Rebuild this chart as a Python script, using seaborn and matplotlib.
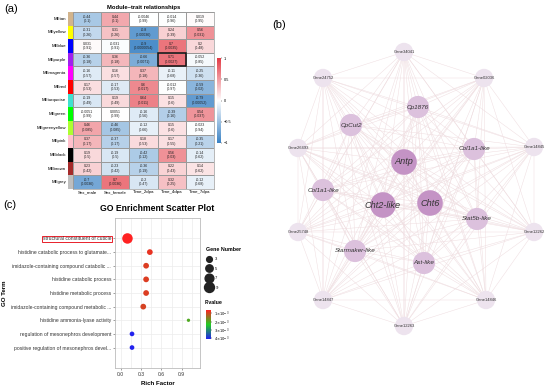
import itertools
import matplotlib.pyplot as plt
import matplotlib.colors as mcolors
import matplotlib.patches as patches
from matplotlib.lines import Line2D
import numpy as np
import pandas as pd
import seaborn as sns

#%% data
modules = ['MEtan', 'MEyellow', 'MEblue', 'MEpurple', 'MEmagenta', 'MEred', 'MEturquoise',
           'MEgreen', 'MEgreenyellow', 'MEpink', 'MEblack', 'MEbrown', 'MEgrey']
module_colors = ['#d2b48c', '#ffff00', '#0000ff', '#a020f0', '#ff00ff', '#ff0000', '#40e0d0',
                 '#00ff00', '#adff2f', '#ffc0cb', '#000000', '#a52a2a', '#bebebe']
traits = ['Sex_male', 'Sex_female', 'Time_2dpa', 'Time_4dpa', 'Time_7dpa']
cor = [[-0.44, 0.44, -0.0046, -0.014, 0.019],
       [-0.31, 0.31, -0.8, 0.24, 0.56],
       [0.031, -0.031, -0.9, 0.7, 0.2],
       [-0.36, 0.36, -0.66, 0.71, -0.052],
       [-0.16, 0.16, 0.37, -0.11, -0.25],
       [0.17, -0.17, 0.6, -0.012, -0.59],
       [-0.19, 0.19, 0.64, 0.15, -0.79],
       [-0.0051, 0.0051, -0.16, -0.39, 0.54],
       [0.46, -0.46, -0.12, 0.15, -0.023],
       [0.37, -0.37, 0.18, 0.17, -0.35],
       [0.19, -0.19, -0.42, 0.56, -0.14],
       [0.23, -0.23, -0.36, 0.22, 0.14],
       [-0.7, 0.7, -0.2, 0.32, -0.12]]
pval = [['0.1', '0.1', '0.99', '0.96', '0.95'],
        ['0.26', '0.26', '0.00036', '0.39', '0.031'],
        ['0.91', '0.91', '0.0000054', '0.0035', '0.48'],
        ['0.18', '0.18', '0.0071', '0.0027', '0.85'],
        ['0.57', '0.57', '0.18', '0.68', '0.36'],
        ['0.53', '0.53', '0.017', '0.97', '0.02'],
        ['0.49', '0.49', '0.011', '0.6', '0.00052'],
        ['0.99', '0.99', '0.56', '0.16', '0.037'],
        ['0.085', '0.085', '0.66', '0.6', '0.94'],
        ['0.17', '0.17', '0.53', '0.55', '0.21'],
        ['0.5', '0.5', '0.12', '0.03', '0.62'],
        ['0.42', '0.42', '0.19', '0.43', '0.62'],
        ['0.0036', '0.0036', '0.47', '0.25', '0.68']]

genes = ['Gene34041', 'Gene24752', 'Gene02036', 'Cp1876', 'CpCut2', 'Col1a1-like', 'Gene14845',
         'Antp', 'Gene26493', 'Col1a1-like', 'Cht2-like', 'Cht6', 'Stat5b-like', 'Gene12262',
         'Gene25748', 'Starmaker-like', 'Ast-like', 'Gene14847', 'Gene14846', 'Gene12263']
gene_x = [404, 323, 484, 418, 351, 474, 534, 404, 298, 323, 383, 430, 477, 534, 298, 355, 424, 323, 486, 404]
gene_y = [52, 78, 78, 107, 125, 149, 147, 162, 148, 190, 205, 203, 219, 232, 232, 251, 263, 300, 300, 326]
gene_level = [0, 0, 0, 1, 1, 1, 0, 2, 0, 1, 2, 2, 1, 0, 0, 1, 1, 0, 0, 0]

go_terms = ['structural constituent of cuticle', 'histidine catabolic process to glutamate...',
            'imidazole-containing compound catabolic ...', 'histidine catabolic process',
            'histidine metabolic process', 'imidazole-containing compound metabolic ...',
            'histidine ammonia-lyase activity', 'regulation of mesonephros development',
            'positive regulation of mesonephros devel...']
rich_factor = [0.10, 0.43, 0.375, 0.375, 0.375, 0.333, 1.0, 0.167, 0.167]
gene_number = [10, 3, 3, 3, 3, 3, 1, 2, 2]
go_pvalue = [0.62e-3, 0.8e-3, 0.9e-3, 0.9e-3, 0.9e-3, 0.95e-3, 2.0e-3, 4.1e-3, 4.1e-3]

#%% figure
W, H = 550, 386
fig = plt.figure(figsize=(W / 100, H / 100), dpi=100)
plt.rcParams['font.family'] = ['Liberation Sans', 'DejaVu Sans']

def rect(l, t, r, b):
    return [l / W, 1 - b / H, (r - l) / W, (b - t) / H]

fig.text(4 / W, 1 - 9 / H, '(a)', fontsize=8, va='center')
fig.text(272 / W, 1 - 25 / H, '(b)', fontsize=8, va='center')
fig.text(3 / W, 1 - 205 / H, '(c)', fontsize=8, va='center')

# (a) heatmap
wgcna_cmap = mcolors.LinearSegmentedColormap.from_list('bwr', ['#3a82c4', '#ffffff', '#e23a45'])
cor_df = pd.DataFrame(cor, index=modules, columns=traits)
annot = np.array([['{}\n({})'.format(c, p) for c, p in zip(cr, pr)] for cr, pr in zip(cor, pval)])
ax_h = fig.add_axes(rect(73, 12, 214, 189))
ax_cb = fig.add_axes(rect(217, 58, 221, 143))
sns.heatmap(cor_df, ax=ax_h, cmap=wgcna_cmap, vmin=-1, vmax=1, annot=annot, fmt='',
            annot_kws={'fontsize': 2.6, 'color': '#222222'}, linewidths=0.5, linecolor='#9a9a9a',
            cbar_ax=ax_cb)
ax_h.set_yticks([])
ax_h.set_ylabel('')
ax_h.set_xticklabels(traits, rotation=0, fontsize=3.2)
ax_h.tick_params(axis='x', length=0, pad=1)
ax_h.set_title('Module\u2013trait relationships', fontsize=4.2, fontweight='bold', pad=2)
ax_h.add_patch(patches.Rectangle((3, 3), 1, 1, fill=False, edgecolor='#111111', lw=1.1))
for s in ax_h.spines.values():
    s.set_visible(True)
    s.set_color('#9a9a9a')
    s.set_linewidth(0.5)
ax_cb.set_yticks([-1, -0.5, 0, 0.5, 1])
ax_cb.set_yticklabels(['\u22121', '\u22120.5', '0', '0.5', '1'])
ax_cb.tick_params(labelsize=2.8, length=1, width=0.3, pad=1)

ax_s = fig.add_axes(rect(67.5, 12, 72.5, 189))
sns.heatmap(np.arange(len(modules)).reshape(-1, 1), ax=ax_s,
            cmap=mcolors.ListedColormap(module_colors), cbar=False)
ax_s.set_xticks([])
ax_s.set_yticks(np.arange(len(modules)) + 0.5)
ax_s.set_yticklabels(modules, fontsize=3.2, rotation=0)
ax_s.tick_params(axis='y', length=0, pad=1)

# (b) network
ax_n = fig.add_axes(rect(270, 30, 550, 350))
ax_n.set_xlim(270, 550)
ax_n.set_ylim(350, 30)
ax_n.axis('off')
for i, j in itertools.combinations(range(len(genes)), 2):
    ax_n.plot([gene_x[i], gene_x[j]], [gene_y[i], gene_y[j]], color='#efdde0', lw=0.35, zorder=1)
node_color = ['#ede3ee', '#dcc1dd', '#c493c5']
node_size = [175, 255, 340]
node_font = [3.0, 4.6, 6.6]
for x, y, g, lv in zip(gene_x, gene_y, genes, gene_level):
    ax_n.scatter(x, y, s=node_size[lv], color=node_color[lv], edgecolors='none', zorder=2)
    style = 'normal' if g.startswith('Gene') else 'italic'
    ax_n.text(x, y, g, fontsize=node_font[lv], style=style, ha='center', va='center',
              color='#333333', zorder=3)

# (c) GO scatter
go_df = pd.DataFrame({'term': go_terms, 'rich': rich_factor, 'count': gene_number, 'p': go_pvalue})
go_cmap = mcolors.LinearSegmentedColormap.from_list('rgb', ['#ff2222', '#22cc22', '#2222ee'])
go_norm = mcolors.Normalize(vmin=min(go_pvalue), vmax=max(go_pvalue))
ax_g = fig.add_axes(rect(115, 218, 200, 368))
sns.scatterplot(data=go_df, x='rich', y='term', size='count', sizes=(5.7, 57), size_norm=(1, 10),
                hue='p', palette=go_cmap, hue_norm=go_norm, edgecolor='none', legend=False,
                ax=ax_g, zorder=3)
ax_g.set_xlim(-0.084, 1.17)
ax_g.set_ylim(9.5, -1.5)
ax_g.set_xticks([0.0, 0.3, 0.6, 0.9])
ax_g.set_xticklabels(['0.0', '0.3', '0.6', '0.9'])
ax_g.set_xticks([0.15, 0.45, 0.75, 1.05], minor=True)
ax_g.grid(True, which='both', color='#ececec', lw=0.5, zorder=0)
ax_g.tick_params(which='both', length=1.2, width=0.4, color='#555555', labelsize=3.6,
                 labelcolor='#333333', pad=1.5)
ax_g.tick_params(which='minor', length=0)
for s in ax_g.spines.values():
    s.set_color('#bbbbbb')
    s.set_linewidth(0.6)
ax_g.set_xlabel('Rich Factor', fontsize=4.4, fontweight='bold', labelpad=3)
ax_g.set_ylabel('GO Term', fontsize=4.4, fontweight='bold', labelpad=3)
ax_g.set_title('GO Enrichment Scatter Plot', fontsize=6.2, fontweight='bold', pad=5)
ax_g.get_yticklabels()[0].set_bbox(dict(facecolor='none', edgecolor='#e8202a', lw=0.7, pad=0.6))

size_handles = [Line2D([], [], marker='o', ls='', color='#222222',
                       markersize=np.sqrt(5.7 * n)) for n in [3, 5, 7, 9]]
leg = fig.legend(size_handles, ['3', '5', '7', '9'], title='Gene Number', loc='upper left',
                 bbox_to_anchor=(204 / W, 1 - 245 / H), frameon=False, fontsize=3,
                 title_fontproperties={'size': 3.8, 'weight': 'bold'}, labelspacing=1.3,
                 handletextpad=0.8, borderpad=0, handlelength=1.4)
leg._legend_box.align = 'left'

fig.text(205 / W, 1 - 303 / H, 'P.value', fontsize=3.8, fontweight='bold', va='center')
ax_pc = fig.add_axes(rect(206, 310, 211, 339))
cb = fig.colorbar(plt.cm.ScalarMappable(norm=go_norm, cmap=go_cmap), cax=ax_pc)
cb.outline.set_visible(False)
cb.set_ticks([1e-3, 2e-3, 3e-3, 4e-3])
cb.set_ticklabels([r'$1{\times}10^{-3}$', r'$2{\times}10^{-3}$', r'$3{\times}10^{-3}$', r'$4{\times}10^{-3}$'])
ax_pc.invert_yaxis()
ax_pc.tick_params(labelsize=2.6, length=1, width=0.3, pad=1.5)

fig.savefig('out.png', dpi=100)
